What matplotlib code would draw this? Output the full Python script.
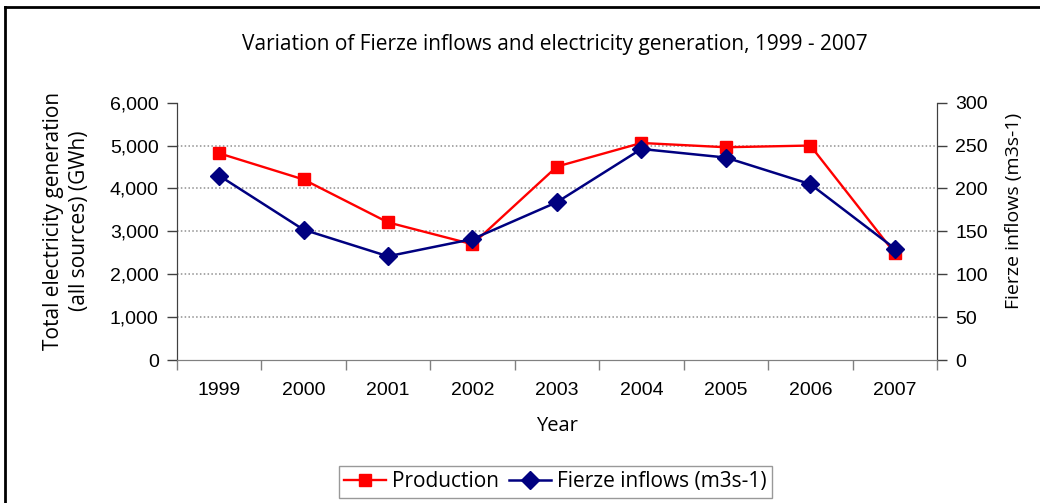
import matplotlib
matplotlib.use("Agg")
import matplotlib.pyplot as plt
from matplotlib.lines import Line2D

# ─── Data ─────────────────────────────────────────────────────────────
years      = ["1999", "2000", "2001", "2002", "2003", "2004", "2005", "2006", "2007"]
production = [4820, 4210, 3210, 2700, 4510, 5060, 4960, 5000, 2490]   # GWh
inflows    = [215, 152, 121, 141, 184, 246, 236, 205, 130]            # m3s-1

left_ticks  = [0, 1000, 2000, 3000, 4000, 5000, 6000]
right_ticks = [0, 50, 100, 150, 200, 250, 300]

# ─── Figure ───────────────────────────────────────────────────────────
TXT  = "Open Sans"
TICK = "Liberation Sans"
TICK_SIZE = 14

fig = plt.figure(figsize=(10.4, 5.03), dpi=100)
ax = fig.add_axes([0.170, 0.284, 0.731, 0.512])
ax2 = ax.twinx()

x = list(range(len(years)))

ax.plot(x, production, color="#FF0000", lw=1.7, marker="s", ms=8.3,
        mec="#FF0000", mfc="#FF0000", label="Production", zorder=3)
ax2.plot(x, inflows, color="#000080", lw=1.8, marker="D", ms=9,
         mec="#000080", mfc="#000080", label="Fierze inflows (m3s-1)", zorder=3)

# axes limits / ticks
ax.set_xlim(-0.5, len(years) - 0.5)
ax.set_ylim(0, 6000)
ax2.set_ylim(0, 300)

ax.set_yticks(left_ticks)
ax.set_yticklabels([f"{v:,}" for v in left_ticks], fontfamily=TICK, fontsize=TICK_SIZE)
ax2.set_yticks(right_ticks)
ax2.set_yticklabels([str(v) for v in right_ticks], fontfamily=TICK, fontsize=TICK_SIZE)

ax.set_xticks(x)
ax.set_xticklabels(years, fontfamily=TICK, fontsize=TICK_SIZE)
ax.set_xticks([i - 0.5 for i in range(len(years) + 1)], minor=True)
ax.tick_params(axis="x", which="major", length=0, pad=16)
ax.tick_params(axis="x", which="minor", length=7, color="#808080", width=1)
ax.tick_params(axis="y", length=7, color="#404040", width=1, pad=6)
ax2.tick_params(axis="y", length=7, color="#404040", width=1, pad=6)

# dotted gridlines
for v in left_ticks[1:-1]:
    ax.axhline(v, color="#909090", lw=1.1, ls=(0, (1, 1.5)), zorder=1)

for a in (ax, ax2):
    a.spines["top"].set_visible(False)
    a.spines["left"].set_color("#404040")
    a.spines["right"].set_color("#404040")
    a.spines["bottom"].set_color("#808080")
    a.patch.set_visible(False)

ax.set_xlabel("Year", fontfamily=TXT, fontsize=14.5, labelpad=12)
ax.set_ylabel("Total electricity generation\n(all sources) (GWh)",
              fontfamily=TXT, fontsize=15, linespacing=1.3)
ax.yaxis.set_label_coords(-0.114, 0.54)
ax2.set_ylabel("Fierze inflows (m3s-1)", fontfamily=TXT, fontsize=14)
ax2.yaxis.set_label_coords(1.089, 0.58)

fig.text(0.533, 0.911, "Variation of Fierze inflows and electricity generation, 1999 - 2007",
         ha="center", va="center", fontfamily=TXT, fontsize=15)

# legend
h1, l1 = ax.get_legend_handles_labels()
h2, l2 = ax2.get_legend_handles_labels()
leg = fig.legend(h1 + h2, l1 + l2, loc="center", bbox_to_anchor=(0.534, 0.042),
                 ncol=2, frameon=True, fancybox=False, edgecolor="#808080",
                 prop={"family": TXT, "size": 15}, handlelength=2.0,
                 handletextpad=0.3, columnspacing=0.5, borderpad=0.25,
                 borderaxespad=0)
leg.get_frame().set_linewidth(1.0)

# outer chart frame (left and top edges visible in the crop)
fig.add_artist(Line2D([5 / 1040, 5 / 1040], [0, 1 - 7 / 503], color="black", lw=2))
fig.add_artist(Line2D([5 / 1040, 1], [1 - 7 / 503, 1 - 7 / 503], color="black", lw=2))

fig.savefig("out.png", dpi=100)
